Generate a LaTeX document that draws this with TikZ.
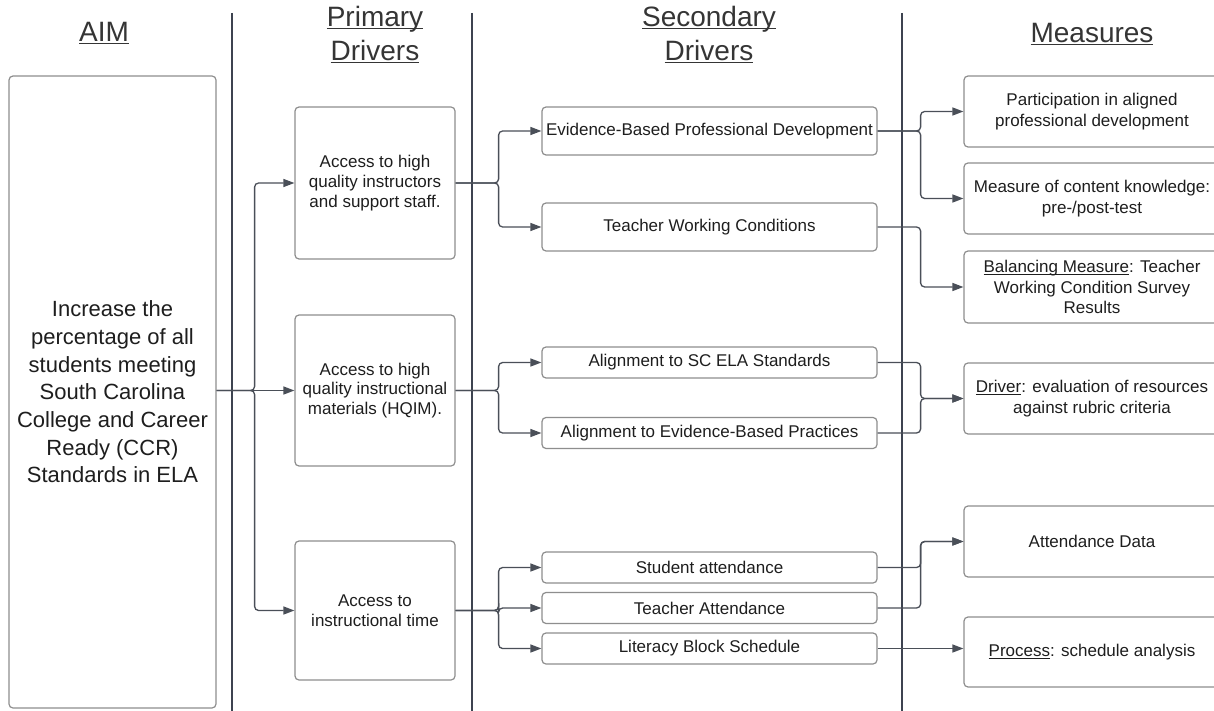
\documentclass[tikz,border=0pt]{standalone}
\usepackage{fontspec}
\setmainfont{Liberation Sans}
\usetikzlibrary{arrows.meta}

\definecolor{ink}{HTML}{1E1E1E}
\definecolor{edge}{HTML}{8E8E8E}
\definecolor{wire}{HTML}{4A4F58}
\definecolor{rulecol}{HTML}{3D4350}

\tikzset{
  drvbox/.style={draw=edge, line width=1.2pt, rounded corners=4pt, align=center,
    text=ink, inner sep=0pt, font=\fontsize{17}{19.7}\selectfont},
  aimbox/.style={drvbox, font=\fontsize{22}{27.7}\selectfont},
  msrbox/.style={drvbox, font=\fontsize{17}{20.5}\selectfont},
  link/.style={draw=wire, line width=1.3pt, rounded corners=4pt,
    -{Triangle[length=11pt,width=8pt]}},
  header/.style={font=\fontsize{28}{34}\selectfont, text=ink!90, align=center, anchor=base},
  divider/.style={draw=rulecol, line width=2pt},
}

\begin{document}
\begin{tikzpicture}[x=1pt,y=-1pt]
\clip (0,0) rectangle (1214,711);
\fill[white] (0,0) rectangle (1214,711);

% column dividers
\draw[divider] (232,13) -- (232,711);
\draw[divider] (472,13) -- (472,711);
\draw[divider] (902,13) -- (902,711);

% column headings
\node[header] (hAim) at (104,42) {\underbar{AIM}};
\node[header] (hPri1) at (375,27) {\underbar{Primary}};
\node[header] (hPri2) at (375,61) {\underbar{Drivers}};
\node[header] (hSec1) at (709,27) {\underbar{Secondary}};
\node[header] (hSec2) at (709,61) {\underbar{Drivers}};
\node[header] (hMsr) at (1092,43) {\underbar{Measures}};

% aim
\node[aimbox, minimum width=207pt, minimum height=632pt] (aim) at (112.5,392)
  {Increase the\\percentage of all\\students meeting\\South Carolina\\College and Career\\Ready (CCR)\\Standards in ELA};

% primary drivers
\node[drvbox, minimum width=160pt, minimum height=152pt] (p1) at (375,183)
  {Access to high\\quality instructors\\and support staff.};
\node[drvbox, minimum width=160pt, minimum height=151pt] (p2) at (375,390.5)
  {Access to high\\quality instructional\\materials (HQIM).};
\node[drvbox, minimum width=160pt, minimum height=139pt] (p3) at (375,610.5)
  {Access to\\instructional time};

% secondary drivers
\node[drvbox, minimum width=335pt, minimum height=48pt] (s1) at (709.5,131)
  {Evidence-Based Professional Development};
\node[drvbox, minimum width=335pt, minimum height=48pt] (s2) at (709.5,227)
  {Teacher Working Conditions};
\node[drvbox, minimum width=335pt, minimum height=31pt] (s3) at (709.5,362.5)
  {Alignment to SC ELA Standards};
\node[drvbox, minimum width=335pt, minimum height=31pt] (s4) at (709.5,433)
  {Alignment to Evidence-Based Practices};
\node[drvbox, minimum width=335pt, minimum height=31pt] (s5) at (709.5,567.5)
  {Student attendance};
\node[drvbox, minimum width=335pt, minimum height=31pt] (s6) at (709.5,608)
  {Teacher Attendance};
\node[drvbox, minimum width=335pt, minimum height=31pt] (s7) at (709.5,648.5)
  {Literacy Block Schedule};

% measures
\node[msrbox, minimum width=256pt, minimum height=71pt] (m1) at (1092,111.5)
  {Participation in aligned\\professional development};
\node[msrbox, minimum width=256pt, minimum height=71pt] (m2) at (1092,198.5)
  {Measure of content knowledge:\\pre-/post-test};
\node[msrbox, minimum width=256pt, minimum height=72pt] (m3) at (1092,287)
  {\underbar{Balancing Measure}: Teacher\\Working Condition Survey\\Results};
\node[msrbox, minimum width=256pt, minimum height=71pt] (m4) at (1092,398.5)
  {\underbar{Driver}: evaluation of resources\\against rubric criteria};
\node[msrbox, minimum width=256pt, minimum height=71pt] (m5) at (1092,541.5)
  {Attendance Data};
\node[msrbox, minimum width=256pt, minimum height=70pt] (m6) at (1092,652)
  {\underbar{Process}: schedule analysis};

% aim -> primary drivers
\draw[link] (aim.east |- p2.west) -- (p2.west);
\draw[link] (aim.east |- p2.west) -- ++(38,0) |- (p1.west);
\draw[link] (aim.east |- p2.west) -- ++(38,0) |- (p3.west);

% primary -> secondary drivers
\draw[link] (p1.east) -- ++(43,0) |- (s1.west);
\draw[link] (p1.east) -- ++(43,0) |- (s2.west);
\draw[link] (p2.east) -- ++(43,0) |- (s3.west);
\draw[link] (p2.east) -- ++(43,0) |- (s4.west);
\draw[link] (p3.east) -- ++(43,0) |- (s5.west);
\draw[link] (p3.east) -- ++(43,0) |- (s6.west);
\draw[link] (p3.east) -- ++(43,0) |- (s7.west);

% secondary drivers -> measures
\draw[link] (s1.east) -- ++(43,0) |- (m1.west);
\draw[link] (s1.east) -- ++(43,0) |- (m2.west);
\draw[link] (s2.east) -- ++(43,0) |- (m3.west);
\draw[link] (s3.east) -- ++(43,0) |- (m4.west);
\draw[link] (s4.east) -- ++(43,0) |- (m4.west);
\draw[link] (s5.east) -- ++(43,0) |- (m5.west);
\draw[link] (s6.east) -- ++(43,0) |- (m5.west);
\draw[link] (s7.east) -- (s7.east -| m6.west);
\end{tikzpicture}
\end{document}
